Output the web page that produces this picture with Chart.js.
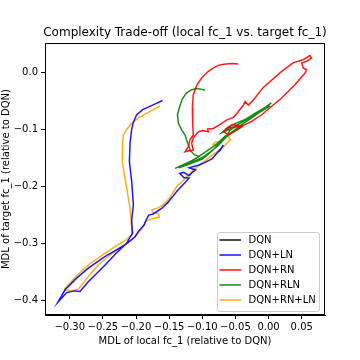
<!DOCTYPE html>
<html>
<head>
<meta charset="utf-8">
<script src="https://cdn.jsdelivr.net/npm/chart.js@4.4.0/dist/chart.umd.min.js"></script>
<style>
  html, body { margin: 0; padding: 0; background: #fff; }
</style>
</head>
<body>
<canvas id="chart" width="360" height="360"></canvas>
<script>
// data (x = local fc_1, y = target fc_1, both relative to DQN)
const seriesNames = ['DQN', 'DQN+LN', 'DQN+RN', 'DQN+RLN', 'DQN+RN+LN'];
const seriesColors = ['#000000', '#0000ff', '#ff0000', '#008000', '#ffa500'];

const dqnX = [0];
const dqnY = [0];

const lnX = [-0.160, -0.175, -0.190, -0.199, -0.204, -0.2065, -0.209, -0.210, -0.2065, -0.204, -0.2065, -0.2056,
  -0.214, -0.230, -0.247, -0.272, -0.2845, -0.292, -0.3046, -0.318, -0.307, -0.290, -0.272, -0.247, -0.2166,
  -0.2015, -0.1966, -0.1875, -0.186, -0.181, -0.174, -0.161, -0.153, -0.151, -0.145, -0.139, -0.126, -0.120,
  -0.128, -0.134, -0.128, -0.120, -0.115, -0.110, -0.120, -0.105, -0.095, -0.085, -0.080, -0.070, -0.075, -0.068];
const lnY = [-0.050, -0.058, -0.066, -0.075, -0.088, -0.100, -0.125, -0.157, -0.192, -0.233, -0.260, -0.283,
  -0.300, -0.318, -0.339, -0.368, -0.385, -0.384, -0.387, -0.404, -0.382, -0.362, -0.344, -0.324, -0.3035,
  -0.289, -0.280, -0.268, -0.263, -0.251, -0.249, -0.239, -0.230, -0.2275, -0.219, -0.210, -0.194, -0.186,
  -0.185, -0.178, -0.176, -0.182, -0.176, -0.172, -0.168, -0.163, -0.158, -0.152, -0.145, -0.132, -0.140, -0.128];

const rnX = [-0.046, -0.055, -0.061, -0.070, -0.076, -0.085, -0.091, -0.101, -0.108, -0.1136, -0.115, -0.1145,
  -0.1136, -0.1186, -0.121, -0.126, -0.120, -0.1136, -0.116, -0.1136, -0.106, -0.099, -0.091, -0.092, -0.0834,
  -0.073, -0.063, -0.053, -0.046, -0.038, -0.0356, -0.0306, -0.023, -0.008, 0.0197, 0.037, 0.0448, 0.052,
  0.0625, 0.065, 0.058, 0.050, 0.052, 0.0575, 0.055, 0.040, 0.0197, 0.0047, -0.0104, -0.0255, -0.038, -0.0507,
  -0.060, -0.068, -0.060, -0.048, -0.040, -0.055, -0.065];
const rnY = [0.014, 0.0148, 0.0146, 0.013, 0.0117, 0.006, 0.0012, -0.0105, -0.022, -0.040, -0.063, -0.090,
  -0.1105, -0.119, -0.131, -0.140, -0.138, -0.137, -0.125, -0.1155, -0.1047, -0.1025, -0.1047, -0.100, -0.099,
  -0.092, -0.084, -0.0795, -0.070, -0.058, -0.052, -0.058, -0.049, -0.027, 0.0012, 0.016, 0.0188, 0.0216,
  0.029, 0.0246, 0.019, 0.0158, 0.007, 0.004, -0.0018, -0.022, -0.0456, -0.060, -0.075, -0.0865, -0.0935, -0.0965,
  -0.098, -0.105, -0.110, -0.102, -0.095, -0.092, -0.100];

const rlnX = [-0.096, -0.102, -0.108, -0.116, -0.124, -0.130, -0.134, -0.1375, -0.136, -0.131, -0.126, -0.122,
  -0.118, -0.112, -0.105, -0.115, -0.128, -0.141, -0.130, -0.115, -0.100, -0.088, -0.075, -0.065, -0.058, -0.048,
  -0.040, -0.052, -0.065, -0.080, -0.095, -0.110, -0.125, -0.135, -0.120, -0.100, -0.085, -0.070, -0.055, -0.040,
  -0.025, -0.010, 0.000, 0.004, -0.005, -0.020, -0.035, -0.050, -0.062, -0.070, -0.058, -0.040, -0.020, 0.002];
const rlnY = [-0.032, -0.030, -0.029, -0.031, -0.037, -0.047, -0.060, -0.075, -0.090, -0.102, -0.1105, -0.125,
  -0.138, -0.145, -0.148, -0.155, -0.162, -0.169, -0.164, -0.158, -0.150, -0.140, -0.128, -0.115, -0.102, -0.094,
  -0.096, -0.104, -0.112, -0.128, -0.140, -0.152, -0.163, -0.168, -0.162, -0.153, -0.138, -0.120, -0.105, -0.092,
  -0.080, -0.068, -0.058, -0.054, -0.062, -0.072, -0.083, -0.090, -0.098, -0.106, -0.100, -0.088, -0.075, -0.060];

const rnlnX = [-0.164, -0.180, -0.196, -0.2065, -0.215, -0.219, -0.2207, -0.2207, -0.217, -0.214, -0.209, -0.2065,
  -0.204, -0.2166, -0.2317, -0.252, -0.272, -0.290, -0.3046, -0.308, -0.2996, -0.287, -0.272, -0.257, -0.240,
  -0.2216, -0.2065, -0.1966, -0.189, -0.186, -0.175, -0.165, -0.166, -0.175, -0.176, -0.166, -0.158, -0.150,
  -0.1386, -0.126, -0.1136, -0.100, -0.088, -0.078, -0.068, -0.058, -0.061, -0.066, -0.072, -0.080, -0.084, -0.078];
const rnlnY = [-0.060, -0.070, -0.080, -0.090, -0.102, -0.1105, -0.130, -0.157, -0.185, -0.204, -0.239, -0.274,
  -0.283, -0.296, -0.3065, -0.322, -0.3386, -0.358, -0.3766, -0.381, -0.384, -0.381, -0.359, -0.3386, -0.322,
  -0.3065, -0.295, -0.283, -0.271, -0.262, -0.257, -0.255, -0.249, -0.246, -0.242, -0.238, -0.232, -0.222,
  -0.201, -0.187, -0.172, -0.160, -0.1486, -0.140, -0.131, -0.119, -0.1105, -0.114, -0.122, -0.123, -0.127, -0.130];

const xTicks = [-0.30, -0.25, -0.20, -0.15, -0.10, -0.05, 0.00, 0.05];
const yTicks = [-0.4, -0.3, -0.2, -0.1, 0.0];

const chartTitle = 'Complexity Trade-off (local fc_1 vs. target fc_1)';

const allX = [dqnX, lnX, rnX, rlnX, rnlnX];
const allY = [dqnY, lnY, rnY, rlnY, rnlnY];

const FONT = "'DejaVu Sans', sans-serif";

function zip(xs, ys) {
  return xs.map((x, i) => ({ x: x, y: ys[i] }));
}

function fmt(v, d) {
  const s = Math.abs(v).toFixed(d);
  return (v < -1e-9 ? '\u2212' : '') + s;
}

function withAlpha(hex, a) {
  const r = parseInt(hex.slice(1, 3), 16), g = parseInt(hex.slice(3, 5), 16), b = parseInt(hex.slice(5, 7), 16);
  return 'rgba(' + r + ',' + g + ',' + b + ',' + a + ')';
}

const datasets = seriesNames.map((name, i) => ({
  label: name,
  data: zip(allX[i], allY[i]),
  showLine: true,
  borderColor: withAlpha(seriesColors[i], 0.9),
  backgroundColor: seriesColors[i],
  borderWidth: 1.5,
  pointRadius: 0,
  tension: 0
}));

// frame round the plot area + title centred over it (like matplotlib)
const framePlugin = {
  id: 'frame',
  afterDatasetsDraw(chart) {
    const { ctx, chartArea: a } = chart;
    ctx.save();
    ctx.strokeStyle = '#000';
    ctx.lineWidth = 1;
    ctx.strokeRect(a.left + 0.5, a.top + 0.5, a.right - a.left - 1, a.bottom - a.top - 1);
    ctx.font = '12px ' + FONT;
    ctx.fillStyle = '#000';
    ctx.textAlign = 'center';
    ctx.textBaseline = 'middle';
    ctx.fillText(chartTitle, (a.left + a.right) / 2, a.top - 10);
    ctx.restore();
  }
};

// legend box in the lower right corner with line samples
const legendPlugin = {
  id: 'boxLegend',
  afterDraw(chart) {
    const { ctx, chartArea: a } = chart;
    const w = 102, h = 79;
    const left = a.right - 6 - w, top = a.bottom - 4 - h;
    ctx.save();
    ctx.beginPath();
    ctx.roundRect(left + 0.5, top + 0.5, w, h, 2);
    ctx.fillStyle = 'rgba(255,255,255,0.8)';
    ctx.fill();
    ctx.strokeStyle = '#cccccc';
    ctx.lineWidth = 1;
    ctx.stroke();
    ctx.font = '10px ' + FONT;
    ctx.textBaseline = 'middle';
    seriesNames.forEach((name, i) => {
      const yy = top + 8 + i * 15;
      ctx.beginPath();
      ctx.moveTo(left + 2.5, yy);
      ctx.lineTo(left + 24, yy);
      ctx.strokeStyle = withAlpha(seriesColors[i], 0.7);
      ctx.lineWidth = 2;
      ctx.stroke();
      ctx.fillStyle = '#000';
      ctx.fillText(name, left + 31.5, yy + 0.5);
    });
    ctx.restore();
  }
};

const chartConfig = {
  type: 'scatter',
  data: { datasets: datasets },
  options: {
    responsive: false,
    animation: false,
    layout: { padding: { left: 0, right: 35, top: 43, bottom: 0 } },
    plugins: {
      legend: { display: false },
      tooltip: { enabled: false },
      title: { display: false }
    },
    scales: {
      x: {
        type: 'linear',
        min: -0.3373,
        max: 0.0851,
        afterBuildTicks: s => { s.ticks = xTicks.map(v => ({ value: v })); },
        afterFit: s => { s.height = 45; },
        ticks: {
          color: '#000',
          font: { family: FONT, size: 10 },
          padding: 2,
          maxRotation: 0,
          autoSkip: false,
          callback: v => fmt(v, 2)
        },
        grid: { drawOnChartArea: false, drawTicks: true, tickLength: 4, color: '#000' },
        border: { display: true, color: '#000' },
        title: {
          display: true,
          text: 'MDL of local fc_1 (relative to DQN)',
          color: '#000',
          font: { family: FONT, size: 10 },
          padding: { top: 4, bottom: 13 }
        }
      },
      y: {
        type: 'linear',
        min: -0.4263,
        max: 0.0509,
        afterBuildTicks: s => { s.ticks = yTicks.map(v => ({ value: v })); },
        afterFit: s => { s.width = 45; },
        ticks: {
          color: '#000',
          font: { family: FONT, size: 10 },
          padding: 3,
          autoSkip: false,
          callback: v => fmt(v, 1)
        },
        grid: { drawOnChartArea: false, drawTicks: true, tickLength: 4, color: '#000' },
        border: { display: true, color: '#000' },
        title: {
          display: true,
          text: 'MDL of target fc_1 (relative to DQN)',
          color: '#000',
          font: { family: FONT, size: 10 },
          padding: { top: 0, bottom: 0 }
        }
      }
    }
  },
  plugins: [framePlugin, legendPlugin]
};

const ctx = document.getElementById('chart');
const wadahChart = new Chart(ctx, chartConfig);
</script>
</body>
</html>
